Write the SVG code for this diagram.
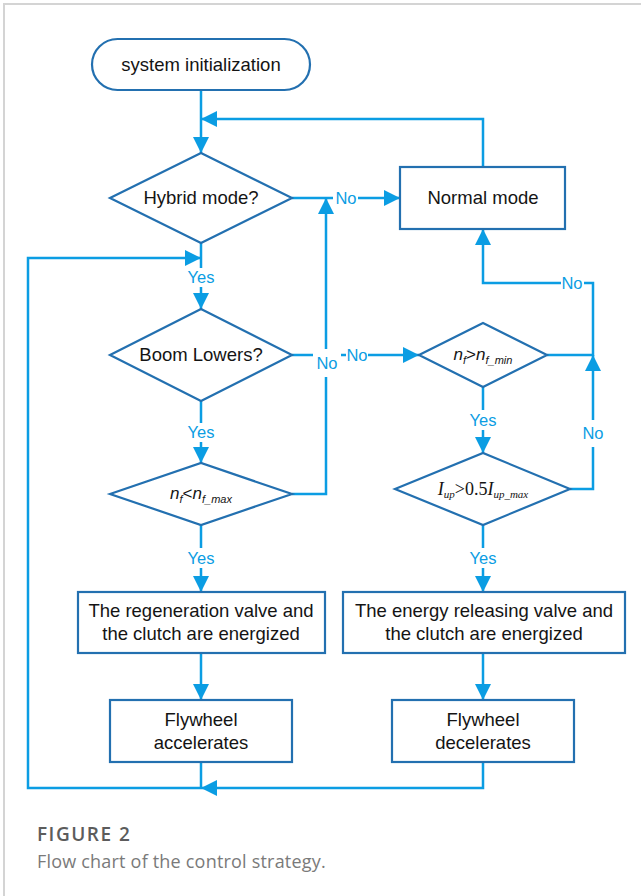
<svg xmlns="http://www.w3.org/2000/svg" width="641" height="896" viewBox="0 0 641 896">
<style>
.node{fill:#fff;stroke:#2370b0;stroke-width:2.2}
.t{font-family:"Liberation Sans",Arial,sans-serif;font-size:18.5px;fill:#141414;text-anchor:middle}
.conn{fill:none;stroke:#0b9de3;stroke-width:2.5}
.lbl{font-family:"Liberation Sans",Arial,sans-serif;font-size:16.5px;fill:#0b9de3;text-anchor:middle}
.m{font-family:"Liberation Sans",Arial,sans-serif;font-style:italic;font-size:17px;fill:#141414;text-anchor:middle}
.ms{font-family:"Liberation Serif","Times New Roman",serif;font-size:18px;fill:#141414;text-anchor:middle}
</style>
<defs>
<marker id="ah" viewBox="0 0 16 16" refX="16" refY="8" markerWidth="16" markerHeight="16" markerUnits="userSpaceOnUse" orient="auto">
<path d="M0,0 L16,8 L0,16 z" fill="#0b9de3"/>
</marker>
</defs>
<rect x="0" y="0" width="641" height="896" fill="#fff"/>
<path d="M4,896 V4 H641" fill="none" stroke="#d4d4d4" stroke-width="2"/>

<g id="connectors">
<path class="conn" d="M201,90 V153" marker-end="url(#ah)"/>
<path class="conn" d="M483,167 V119 H201" marker-end="url(#ah)"/>
<path class="conn" d="M292,198 H333 M358,198 H400" marker-end="url(#ah)"/>
<path class="conn" d="M201,243 V268 M201,287 V309" marker-end="url(#ah)"/>
<path class="conn" d="M201,762 V788"/>
<path class="conn" d="M483,762 V788 H201" marker-end="url(#ah)"/>
<path class="conn" d="M201,788 H28 V258 H201" marker-end="url(#ah)"/>
<path class="conn" d="M292,355 H313 M341,355 H346 M368,355 H419" marker-end="url(#ah)"/>
<path class="conn" d="M292,494 H326 V377 M326,349 V198" marker-end="url(#ah)"/>
<path class="conn" d="M201,401 V423 M201,442 V463" marker-end="url(#ah)"/>
<path class="conn" d="M547,355 H593 V283 H584 M561,283 H483 V229" marker-end="url(#ah)"/>
<path class="conn" d="M570,489 H593 V447 M593,420 V355" marker-end="url(#ah)"/>
<path class="conn" d="M483,387 V410 M483,430 V453" marker-end="url(#ah)"/>
<path class="conn" d="M201,525 V548 M201,568 V592" marker-end="url(#ah)"/>
<path class="conn" d="M483,525 V548 M483,568 V592" marker-end="url(#ah)"/>
<path class="conn" d="M201,653 V700" marker-end="url(#ah)"/>
<path class="conn" d="M483,653 V700" marker-end="url(#ah)"/>
<text class="lbl" x="346" y="204">No</text>
<text class="lbl" x="201" y="283">Yes</text>
<text class="lbl" x="327" y="369">No</text>
<text class="lbl" x="357" y="361">No</text>
<text class="lbl" x="201" y="438">Yes</text>
<text class="lbl" x="572" y="289">No</text>
<text class="lbl" x="593" y="439">No</text>
<text class="lbl" x="483" y="426">Yes</text>
<text class="lbl" x="201" y="564">Yes</text>
<text class="lbl" x="483" y="564">Yes</text>
</g>

<g id="start">
<rect class="node" x="92" y="39" width="218" height="51" rx="25.5"/>
<text class="t" x="201" y="71">system initialization</text>
</g>
<g id="hybrid">
<polygon class="node" points="110,198 201,153 292,198 201,243"/>
<text class="t" x="201" y="204">Hybrid mode?</text>
</g>
<g id="normal">
<rect class="node" x="400" y="167" width="165" height="62"/>
<text class="t" x="483" y="204">Normal mode</text>
</g>
<g id="boom">
<polygon class="node" points="110,355 201,309 292,355 201,401"/>
<text class="t" x="201" y="361">Boom Lowers?</text>
</g>
<g id="nfmin">
<polygon class="node" points="419,355 483,323 547,355 483,387"/>
<text class="m" x="483" y="360">n<tspan font-size="11" dy="4">f</tspan><tspan dy="-4" font-style="normal">&gt;</tspan>n<tspan font-size="11" dy="4">f_min</tspan></text>
</g>
<g id="nfmax">
<polygon class="node" points="110,494 201,463 292,494 201,525"/>
<text class="m" x="201" y="499">n<tspan font-size="11" dy="4">f</tspan><tspan dy="-4" font-style="normal">&lt;</tspan>n<tspan font-size="11" dy="4">f_max</tspan></text>
</g>
<g id="iup">
<polygon class="node" points="395,489 483,453 570,489 483,525"/>
<text class="ms" x="483" y="495"><tspan font-style="italic">I</tspan><tspan font-style="italic" font-size="11" dy="3">up</tspan><tspan dy="-3">&gt;0.5</tspan><tspan font-style="italic">I</tspan><tspan font-style="italic" font-size="11" dy="3">up_max</tspan></text>
</g>
<g id="regen">
<rect class="node" x="78" y="592" width="247" height="61"/>
<text class="t" x="201" y="617">The regeneration valve and</text>
<text class="t" x="201" y="640">the clutch are energized</text>
</g>
<g id="release">
<rect class="node" x="343" y="592" width="282" height="61"/>
<text class="t" x="484" y="617">The energy releasing valve and</text>
<text class="t" x="484" y="640">the clutch are energized</text>
</g>
<g id="accel">
<rect class="node" x="110" y="700" width="182" height="62"/>
<text class="t" x="201" y="726">Flywheel</text>
<text class="t" x="201" y="749">accelerates</text>
</g>
<g id="decel">
<rect class="node" x="392" y="700" width="182" height="62"/>
<text class="t" x="483" y="726">Flywheel</text>
<text class="t" x="483" y="749">decelerates</text>
</g>

<text x="37" y="841" font-family="'Open Sans',Lato,sans-serif" font-weight="600" font-size="19" letter-spacing="1.5" fill="#5c5c5c">FIGURE 2</text>
<text x="37" y="868" font-family="'Open Sans',Lato,sans-serif" font-size="18" letter-spacing="0.2" fill="#7a7a7a">Flow chart of the control strategy.</text>
</svg>
